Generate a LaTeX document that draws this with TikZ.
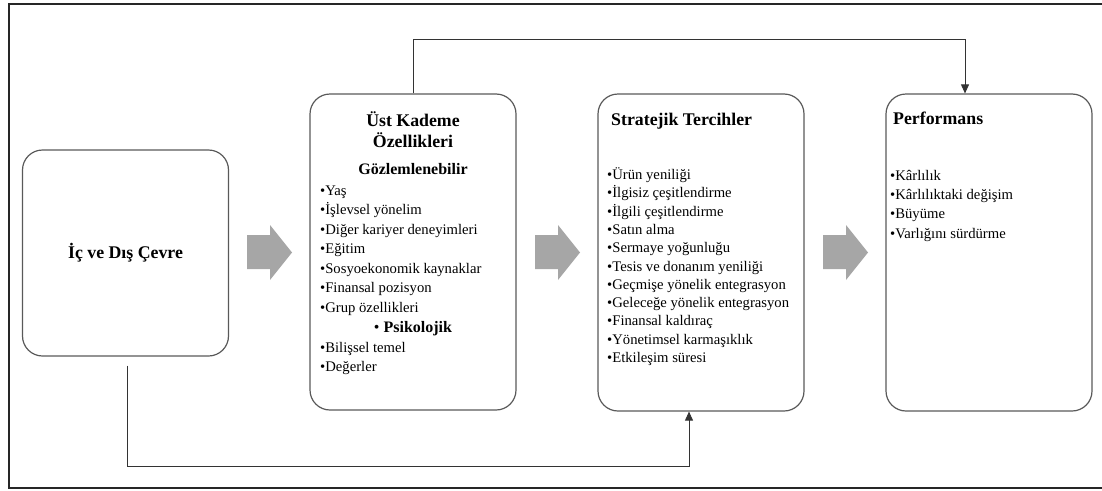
\documentclass[tikz,border=0pt]{standalone}
\usepackage{fontspec}
\setmainfont{Liberation Serif}
\usetikzlibrary{arrows.meta,positioning}

\begin{document}
\begin{tikzpicture}[x=1pt,y=-1pt,
  box/.style={draw=black!65, line width=1.2pt, rounded corners=20pt,
    minimum width=206pt, inner sep=0pt},
  head/.style={inner sep=0pt, font=\fontsize{17.8}{20}\selectfont\bfseries},
  sub/.style={inner sep=0pt, font=\fontsize{16}{19}\selectfont\bfseries},
  item/.style={anchor=base west, inner sep=0pt, font=\fontsize{14.67}{18}\selectfont},
  link/.style={draw=black!80, line width=0.9pt},
  tip/.style={-{Triangle[length=9pt,width=8pt]}},
  blockarrow/.style={fill=black!35}]
\useasboundingbox (0,0) rectangle (1102,490);
\draw[line width=1.6pt, black!85] (9,4) rectangle (1110,488);

% boxes
\node[box, minimum height=206pt, head] (env) at (125.5,253) {İç ve Dış Çevre};
\node[box, minimum height=316pt] (top) at (413,252) {};
\node[box, minimum height=317pt] (strat) at (701,252.5) {};
\node[box, minimum height=317pt] (perf) at (989,252.5) {};

% block arrows
\foreach \ax in {247,535,823}
  \fill[blockarrow] (\ax,235) -- ++(23,0) -- ++(0,-10) -- (\ax+45,252.5)
    -- (\ax+23,280) -- ++(0,-11) -- (\ax,269) -- cycle;

% upper echelon
\node[head, anchor=base] (h1) at (413,126) {Üst Kademe};
\node[head, anchor=base, below=6pt of h1.base] (h2) {Özellikleri};
\node[sub, anchor=base] (obs) at (413,174) {Gözlemlenebilir};
\foreach \t [count=\i from 0] in {Yaş,İşlevsel yönelim,Diğer kariyer deneyimleri,
    Eğitim,Sosyoekonomik kaynaklar,Finansal pozisyon,Grup özellikleri}
  \node[item] (o\i) at (320,195+19.5*\i) {\textbullet\t};
\node[sub, anchor=base] (psy) at (413,332) {\mdseries\textbullet\ \bfseries Psikolojik};
\foreach \t [count=\i from 0] in {Bilişsel temel,Değerler}
  \node[item] (p\i) at (320,352+19.5*\i) {\textbullet\t};

% strategic choices
\node[head, anchor=base west] (sh) at (611,125) {Stratejik Tercihler};
\foreach \t [count=\i from 0] in {Ürün yeniliği,İlgisiz çeşitlendirme,İlgili çeşitlendirme,
    Satın alma,Sermaye yoğunluğu,Tesis ve donanım yeniliği,Geçmişe yönelik entegrasyon,
    Geleceğe yönelik entegrasyon,Finansal kaldıraç,Yönetimsel karmaşıklık,Etkileşim süresi}
  \node[item] (s\i) at (607,179.5+18.3*\i) {\textbullet\t};

% performance
\node[head, anchor=base west] (ph) at (893,124) {Performans};
\foreach \t [count=\i from 0] in {Kârlılık,Kârlılıktaki değişim,Büyüme,Varlığını sürdürme}
  \node[item] (f\i) at (890,180+19.4*\i) {\textbullet\t};

% connectors
\coordinate (up) at (0,39);
\coordinate (low) at (0,466);
\coordinate (sin) at ([xshift=-12pt]strat.south);
\draw[link, tip] (top.north) -- (top.north |- up) -| ([xshift=-24pt]perf.north);
\draw[link, tip] ([xshift=1.5pt,yshift=-9pt]env.south) |- (sin |- low) -- (sin);
\end{tikzpicture}
\end{document}
